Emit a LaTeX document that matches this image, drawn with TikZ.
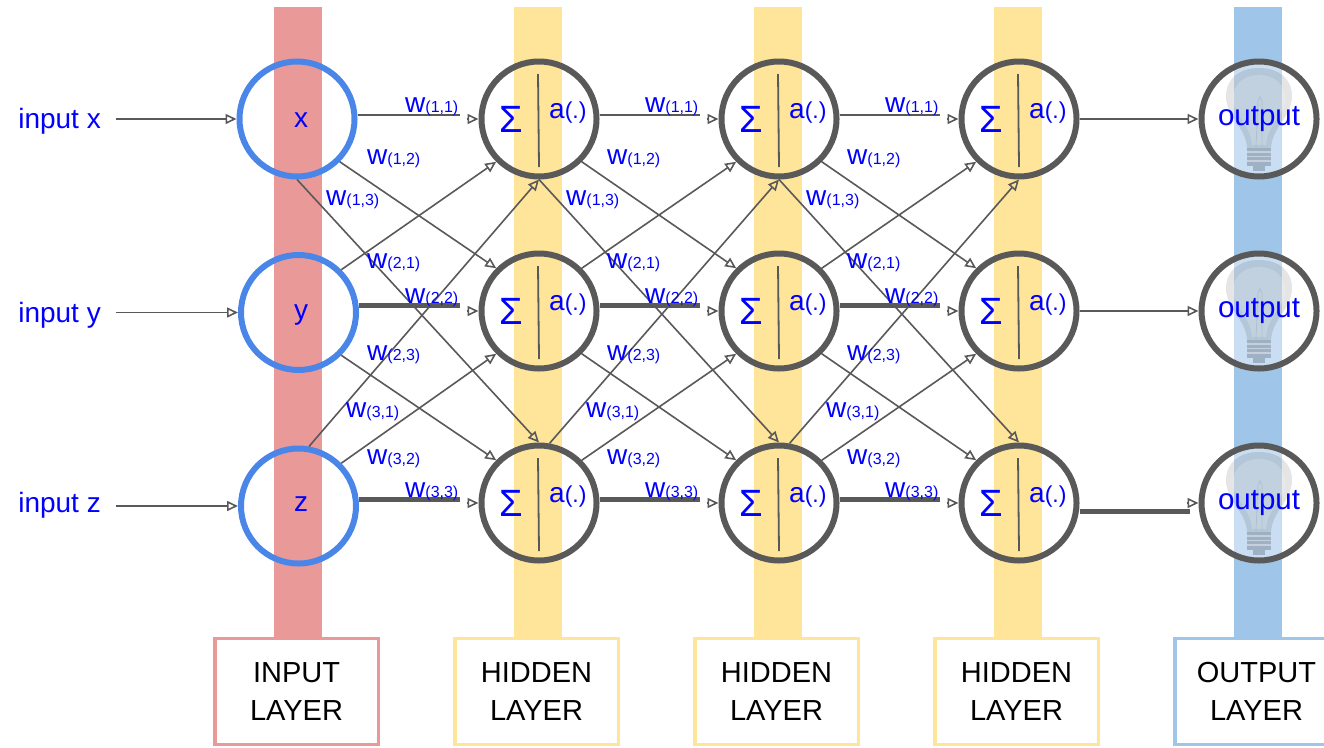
\documentclass[tikz,border=0pt]{standalone}
\usepackage{fontspec}
\setmainfont{Liberation Sans}
\usetikzlibrary{arrows.meta, positioning}
\definecolor{barred}{HTML}{EA9999}
\definecolor{baryellow}{HTML}{FFE599}
\definecolor{barblue}{HTML}{9FC5E8}
\definecolor{ringblue}{HTML}{4A86E8}
\definecolor{ringgray}{HTML}{595959}
\tikzset{
->, % every connector gets a head
>={Triangle[open, length=11pt, width=10pt]},
node distance=240pt, % from one layer to the next
bar/.style={rectangle, minimum width=48pt, minimum height=631pt, inner sep=0pt},
laybox/.style={rectangle, draw, line width=3.5pt, fill=white, minimum width=163.5pt, minimum height=106pt,
  align=center, font=\fontsize{29}{38}\selectfont},
ring/.style={circle, draw, line width=6pt, minimum size=115pt, inner sep=0pt},
inring/.style={ring, draw=ringblue},
neuron/.style={ring, draw=ringgray},
outring/.style={ring, draw=ringgray, fill=white, fill opacity=0.44},
txt/.style={text=blue, inner sep=0pt, font=\fontsize{28}{28}\selectfont},
link/.style={-, color=ringgray, line width=1.6pt, every edge/.style={draw, ->}},
wire/.style={-, draw=ringgray, line width=2.5pt},
fatwire/.style={-, draw=ringgray, line width=5pt},
}
\newcommand{\wt}[1]{w{\fontsize{16}{16}\selectfont(#1)}}
% a summing unit: ring, sigma, divider and activation
\newcommand{\neuron}[2]{
  \node[neuron, #2] (#1) {};
  \draw[-, draw=ringgray, line width=1.8pt] ([shift={(-1,-45)}]#1.center) -- ([shift={(0,48)}]#1.center);
  \node[txt, anchor=base, font=\fontsize{38}{38}\selectfont] (#1s) at ([shift={(-27.5,13)}]#1.center) {Σ};
  \node[txt, anchor=base west] (#1a) at ([shift={(10,-0.5)}]#1.center) {a{\fontsize{23}{23}\selectfont(.)}};
}
% lamp behind an output text
\newcommand{\lamp}[1]{
  \begin{scope}[shift={(#1.center)}]
    \fill[black, opacity=0.1] (0,-51) .. controls (20,-51) and (33,-40) .. (33,-23)
      .. controls (33,-2) and (13,8) .. (12,29) -- (-12,29)
      .. controls (-13,8) and (-33,-2) .. (-33,-23) .. controls (-33,-40) and (-20,-51) .. (0,-51) -- cycle;
    \fill[white, opacity=0.18] (0,-44) .. controls (16,-44) and (26,-34) .. (26,-21)
      .. controls (26,-4) and (8,6) .. (7,26) -- (-7,26)
      .. controls (-8,6) and (-26,-4) .. (-26,-21) .. controls (-26,-34) and (-16,-44) .. (0,-44) -- cycle;
    \draw[-, black, opacity=0.08, line width=0.8pt] (-3,28) -- (-1,-18) -- (1,-22) -- (3,-18) -- (3,28);
    \fill[black!60!barblue, opacity=0.3] (-12,29) rectangle (12,47);
    \fill[black!60!barblue, opacity=0.3] (-6,47) rectangle (6,52);
    \draw[-, white, opacity=0.4, line width=1.2pt] (-12,33) -- (12,33) (-12,37.5) -- (12,37.5) (-12,42) -- (12,42);
  \end{scope}
}
% connectors between two layers
\newcommand{\links}[2]{
  \draw[link] (#11.-45) edge (#22.135)
              (#11.south) edge (#23.north)
              (#12.45) edge (#21.-135)
              (#12.-45) edge (#23.135)
              (#13.80) edge (#21.south)
              (#13.45) edge (#22.-135);
  \coordinate (#11e) at ([shift={(-19,-4)}]#21.west);
  \coordinate (#12e) at ([shift={(-19,-6)}]#22.west);
  \coordinate (#13e) at ([shift={(-19,-4)}]#23.west);
  \draw[wire] (#11e -| #11.east) -- (#11e);
  \draw[fatwire] (#12e -| #12.east) -- (#12e);
  \draw[fatwire] (#13e -| #13.east) -- (#13e);
  \draw[link] ([xshift=-12pt]#21.west) edge (#21.west)
              ([xshift=-12pt]#22.west) edge (#22.west)
              ([xshift=-12pt]#23.west) edge (#23.west);
}
% weight labels of one gap, #1 is how far it sits from the first gap
\newcommand{\weights}[2]{
  \node[txt, anchor=base west] (#2w11) at (405+#1,112) {\wt{1,1}};
  \node[txt, anchor=base west] (#2w12) at (367+#1,164) {\wt{1,2}};
  \node[txt, anchor=base west] (#2w13) at (326+#1,205) {\wt{1,3}};
  \node[txt, anchor=base west] (#2w21) at (367+#1,268) {\wt{2,1}};
  \node[txt, anchor=base west] (#2w22) at (405+#1,303) {\wt{2,2}};
  \node[txt, anchor=base west] (#2w23) at (367+#1,360) {\wt{2,3}};
  \node[txt, anchor=base west] (#2w31) at (346+#1,417) {\wt{3,1}};
  \node[txt, anchor=base west] (#2w32) at (367+#1,464) {\wt{3,2}};
  \node[txt, anchor=base west] (#2w33) at (405+#1,497) {\wt{3,3}};
}

\begin{document}
\begin{tikzpicture}[x=1pt, y=-1pt]
  \useasboundingbox (0,0) rectangle (1324,747);
  \clip (0,0) rectangle (1324,747);

  \node[bar, fill=barred] (barin) at (298,322.5) {};
  \node[bar, fill=baryellow, right of=barin] (bara) {};
  \node[bar, fill=baryellow, right of=bara] (barb) {};
  \node[bar, fill=baryellow, right of=barb] (barc) {};
  \node[bar, fill=barblue, right of=barc] (barout) {};

  \node[laybox, draw=barred] (boxin) at (296.5,691.5) {INPUT\\LAYER};
  \node[laybox, draw=baryellow, right of=boxin] (boxa) {HIDDEN\\LAYER};
  \node[laybox, draw=baryellow, right of=boxa] (boxb) {HIDDEN\\LAYER};
  \node[laybox, draw=baryellow, right of=boxb] (boxc) {HIDDEN\\LAYER};
  \node[laybox, draw=barblue, right of=boxc] (boxout) {OUTPUT\\LAYER};

  \node[inring] (in1) at (297,119) {};
  \node[inring] (in2) at (298.5,312.5) {};
  \node[inring] (in3) at (298.5,506) {};

  \neuron{a1}{at={(539,119)}}
  \neuron{a2}{at={(539,311)}}
  \neuron{a3}{at={(539,503)}}
  \neuron{b1}{right of=a1}
  \neuron{b2}{right of=a2}
  \neuron{b3}{right of=a3}
  \neuron{c1}{right of=b1}
  \neuron{c2}{right of=b2}
  \neuron{c3}{right of=b3}

  \node[outring, right of=c1] (out1) {};
  \node[outring, right of=c2] (out2) {};
  \node[outring, right of=c3] (out3) {};
  \lamp{out1}
  \lamp{out2}
  \lamp{out3}

  \node[txt, anchor=base east] (lx) at (101,128) {input x};
  \node[txt, anchor=base east] (ly) at (101,322) {input y};
  \node[txt, anchor=base east] (lz) at (101,512) {input z};
  \node[txt, anchor=base] (tx) at (301,127) {x};
  \node[txt, anchor=base] (ty) at (301,319) {y};
  \node[txt, anchor=base] (tz) at (301,511) {z};
  \node[txt, anchor=base, font=\fontsize{29.5}{30}\selectfont] (t1) at ([yshift=-6pt]out1.center) {output};
  \node[txt, anchor=base, font=\fontsize{29.5}{30}\selectfont] (t2) at ([yshift=-6pt]out2.center) {output};
  \node[txt, anchor=base, font=\fontsize{29.5}{30}\selectfont] (t3) at ([yshift=-6pt]out3.center) {output};

  \draw[link] ([xshift=15pt]lx.east |- in1.west) edge (in1.west)
              ([xshift=15pt]ly.east |- in2.west) edge (in2.west)
              ([xshift=15pt]lz.east |- in3.west) edge (in3.west);

  \links{in}{a}
  \links{a}{b}
  \links{b}{c}

  \draw[link] (c1.east) edge (out1.west)
              (c2.east) edge (out2.west);
  \coordinate (c3e) at ([shift={(-9,8)}]out3.west);
  \draw[fatwire] (c3e -| c3.east) -- (c3e);
  \draw[link] ([xshift=-12pt]out3.west) edge (out3.west);

  \weights{0}{p}
  \weights{240}{q}
  \weights{480}{r}
\end{tikzpicture}
\end{document}
